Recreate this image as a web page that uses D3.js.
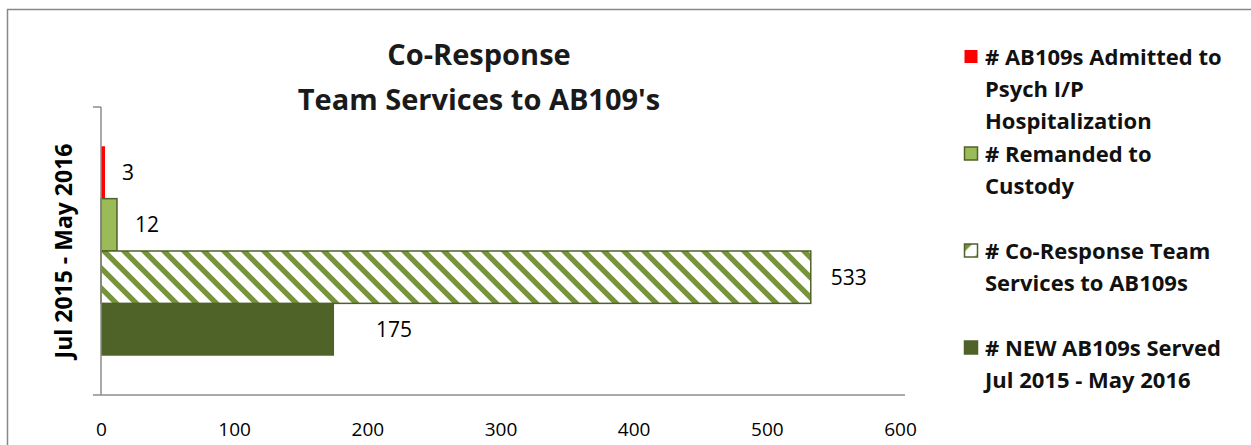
<!DOCTYPE html>
<html><head><meta charset="utf-8">
<script src="https://cdn.jsdelivr.net/npm/d3@7"></script>
<style>
html,body{margin:0;padding:0;background:#fff;}
svg{display:block;font-family:"Open Sans","Noto Sans",sans-serif;}
</style></head>
<body><svg id="chart" width="1251" height="445"></svg>
<script>
const category = "Jul 2015 - May 2016";
const seriesNames = [
  "# AB109s Admitted to Psych I/P Hospitalization",
  "# Remanded to Custody",
  "# Co-Response Team Services to AB109s",
  "# NEW AB109s Served Jul 2015 - May 2016"
];
const seriesValues = [3, 12, 533, 175];
const legendLines = [
  ["# AB109s Admitted to", "Psych I/P", "Hospitalization"],
  ["# Remanded to", "Custody"],
  ["# Co-Response Team", "Services to AB109s"],
  ["# NEW AB109s Served", "Jul 2015 - May 2016"]
];
const xTicks = [0, 100, 200, 300, 400, 500, 600];
const titleLines = ["Co-Response", "Team Services to AB109's"];

// styles
const fills = ["#FF0000", "#9BBB59", "url(#hatch)", "#4F6228"];
const strokes = ["none", "#4F6228", "#4F6228", "none"];
const labelDx = [17, 18, 20, 42];

const svg = d3.select("#chart");
const defs = svg.append("defs");
const pat = defs.append("pattern").attr("id", "hatch").attr("patternUnits", "userSpaceOnUse")
  .attr("width", 20).attr("height", 20);
pat.append("rect").attr("width", 20).attr("height", 20).attr("fill", "#fff");
pat.append("path").attr("d", "M-5,-5L25,25M-5,15L5,25M15,-5L25,5")
  .attr("stroke", "#77933C").attr("stroke-width", 5.4);
const lpat = defs.append("pattern").attr("id", "hatchL").attr("patternUnits", "objectBoundingBox")
  .attr("width", 1).attr("height", 1).attr("patternContentUnits", "objectBoundingBox");
lpat.append("rect").attr("width", 1).attr("height", 1).attr("fill", "#fff");
lpat.append("path").attr("d", "M0,0L0.6,0L0,0.6Z").attr("fill", "#77933C");
lpat.append("path").attr("d", "M1,0.75L1,1L0.75,1Z").attr("fill", "#9BBB59");

// chart border
svg.append("rect").attr("x", 7.5).attr("y", 9.5).attr("width", 1300).attr("height", 500)
  .attr("fill", "none").attr("stroke", "#888").attr("stroke-width", 1.5);

const plot = {left: 101, right: 900, top: 107, bottom: 395};
const x = d3.scaleLinear().domain([0, 600]).range([plot.left, plot.right]);
const yBand = d3.scaleBand().domain([category]).range([plot.top, plot.bottom]);
const ySeries = d3.scaleBand().domain(d3.range(seriesValues.length))
  .range([0, yBand.bandwidth()]).paddingOuter(0.75).paddingInner(0);

// title
svg.append("g").selectAll("text").data(titleLines).join("text")
  .attr("x", 479).attr("y", (d, i) => 65 + i * 45)
  .attr("text-anchor", "middle").attr("font-weight", "bold").attr("font-size", 29)
  .attr("fill", "#1a1a1a").text(d => d);

// bars
const g = svg.append("g").attr("transform", `translate(0,${yBand(category)})`);
g.selectAll("rect.bar").data(seriesValues).join("rect").attr("class", "bar")
  .attr("x", x(0)).attr("y", (d, i) => ySeries(i))
  .attr("width", d => x(d) - x(0)).attr("height", ySeries.bandwidth())
  .attr("fill", (d, i) => fills[i]).attr("stroke", (d, i) => strokes[i]).attr("stroke-width", 1.5);

g.selectAll("text.lbl").data(seriesValues).join("text").attr("class", "lbl")
  .attr("x", (d, i) => x(d) + labelDx[i]).attr("y", (d, i) => ySeries(i) + ySeries.bandwidth() / 2)
  .attr("dy", "0.35em").attr("font-size", 21).attr("fill", "#000").text(d => d);

// axes
const xAxis = svg.append("g").attr("transform", `translate(0,${plot.bottom})`)
  .call(d3.axisBottom(x).tickValues(xTicks).tickSize(0).tickPadding(28));
xAxis.select(".domain").remove();
xAxis.append("line").attr("x1", 93).attr("x2", 905).attr("y1", 0).attr("y2", 0)
  .attr("stroke", "#8c8c8c").attr("stroke-width", 1.5);
xAxis.selectAll("text").attr("font-size", 19).attr("fill", "#000")
  .attr("font-family", "'Open Sans','Noto Sans',sans-serif");

const yAxis = svg.append("g").attr("transform", `translate(${plot.left},0)`)
  .call(d3.axisLeft(yBand).tickSize(0).tickFormat(""));
yAxis.select(".domain").remove();
yAxis.append("line").attr("x1", 0).attr("x2", 0).attr("y1", plot.top).attr("y2", plot.bottom)
  .attr("stroke", "#8c8c8c").attr("stroke-width", 1.5);
yAxis.append("line").attr("x1", -8).attr("x2", 0).attr("y1", plot.top).attr("y2", plot.top)
  .attr("stroke", "#8c8c8c").attr("stroke-width", 1.5);

svg.append("text").attr("transform", `translate(72,${(plot.top + plot.bottom) / 2}) rotate(-90)`)
  .attr("text-anchor", "middle").attr("font-weight", "bold").attr("font-size", 23)
  .attr("fill", "#000").text(category);

// legend
const legendTop = [57, 154, 251, 348];
const lg = svg.append("g");
seriesNames.forEach((name, i) => {
  const item = lg.append("g");
  item.append("rect").attr("x", 964.5).attr("y", legendTop[i] - 7).attr("width", 13).attr("height", 13)
    .attr("fill", i === 2 ? "url(#hatchL)" : fills[i])
    .attr("stroke", i === 0 ? "none" : "#4F6228").attr("stroke-width", 1.5);
  item.selectAll("text").data(legendLines[i]).join("text")
    .attr("x", 985).attr("y", (d, j) => legendTop[i] + j * 32.3).attr("dy", "0.35em")
    .attr("font-weight", "bold").attr("font-size", 22).attr("fill", "#111").text(d => d);
});
</script></body></html>
